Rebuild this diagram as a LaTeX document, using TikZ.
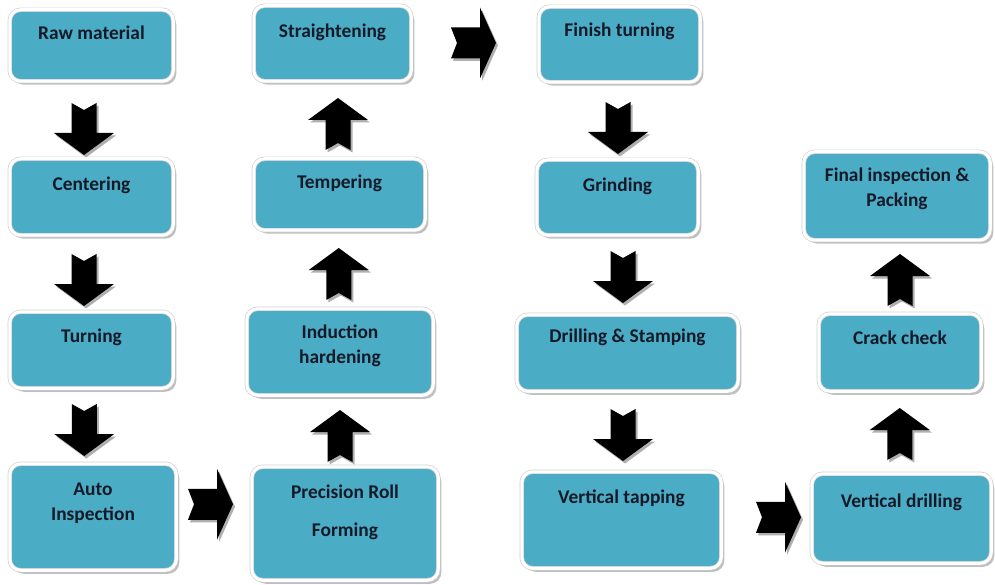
\documentclass[tikz,border=0pt]{standalone}
\usepackage{fontspec}
\setmainfont{Carlito}
\usetikzlibrary{calc,shadows}

\definecolor{boxblue}{RGB}{75,172,198}
\definecolor{inkdark}{RGB}{22,26,40}
\definecolor{arrowshade}{RGB}{175,175,175}
\definecolor{rimgray}{RGB}{205,210,212}

\tikzset{
  stepbox/.style={rounded corners=11pt, fill=boxblue, draw=rimgray, line width=0.7pt,
    double=white, double distance=3pt, inner sep=0pt,
    drop shadow={shadow xshift=3pt, shadow yshift=-3.5pt, fill=black, opacity=0.25}},
  steptext/.style={font=\bfseries\fontsize{19.4}{24.5}\selectfont, text=inkdark,
    align=center, inner sep=0pt},
  % notched block arrow, vertical: #1 = 1 points down, -1 points up
  varrow/.pic={
    \fill[arrowshade, xshift=2pt, yshift=-2.5pt]
      (-12.5,{-26*#1}) -- (0,{-19*#1}) -- (12.5,{-26*#1}) -- (12.5,{4*#1}) --
      (30,{4*#1}) -- (0,{26*#1}) -- (-30,{4*#1}) -- (-12.5,{4*#1}) -- cycle;
    \fill[black]
      (-12.5,{-26*#1}) -- (0,{-19*#1}) -- (12.5,{-26*#1}) -- (12.5,{4*#1}) --
      (30,{4*#1}) -- (0,{26*#1}) -- (-30,{4*#1}) -- (-12.5,{4*#1}) -- cycle;
  },
  % notched block arrow pointing right
  harrow/.pic={
    \fill[arrowshade, xshift=2pt, yshift=-2.5pt]
      (-22.5,-15.5) -- (-16.5,0) -- (-22.5,15.5) -- (6.5,15.5) -- (6.5,35.5) --
      (22.5,0) -- (6.5,-35.5) -- (6.5,-15.5) -- cycle;
    \fill[black]
      (-22.5,-15.5) -- (-16.5,0) -- (-22.5,15.5) -- (6.5,15.5) -- (6.5,35.5) --
      (22.5,0) -- (6.5,-35.5) -- (6.5,-15.5) -- cycle;
  }
}

\begin{document}
\begin{tikzpicture}[x=1pt, y=-1pt]
\useasboundingbox (0,0) rectangle (995,585);

% process boxes
\node[stepbox, minimum width=163.5pt, minimum height=71.5pt]  (raw)    at (91.5,45.5)  {};
\node[stepbox, minimum width=163.5pt, minimum height=76.5pt]  (cent)   at (91.5,197)   {};
\node[stepbox, minimum width=163.5pt, minimum height=76.5pt]  (turn)   at (91.5,350)   {};
\node[stepbox, minimum width=166.5pt, minimum height=106.5pt] (auto)   at (93,517)     {};

\node[stepbox, minimum width=157.5pt, minimum height=75.5pt]  (strt)   at (332.5,43.5) {};
\node[stepbox, minimum width=171.5pt, minimum height=71.5pt]  (temp)   at (339.5,194.5){};
\node[stepbox, minimum width=186.5pt, minimum height=86.5pt]  (induct) at (340,352)    {};
\node[stepbox, minimum width=186.5pt, minimum height=113.5pt] (prec)   at (345,523.5)  {};

\node[stepbox, minimum width=161.5pt, minimum height=75.5pt]  (finish) at (619.5,44.5) {};
\node[stepbox, minimum width=161.5pt, minimum height=75.5pt]  (grind)  at (617.5,197.5){};
\node[stepbox, minimum width=221.5pt, minimum height=76.5pt]  (drill)  at (627.5,353)  {};
\node[stepbox, minimum width=199.5pt, minimum height=96.5pt]  (tap)    at (621.5,520)  {};

\node[stepbox, minimum width=186.5pt, minimum height=88.5pt]  (final)  at (897,196)    {};
\node[stepbox, minimum width=162.5pt, minimum height=77.5pt]  (crack)  at (900,352.5)  {};
\node[stepbox, minimum width=179.5pt, minimum height=89.5pt]  (vdrill) at (901.5,518.5){};

% box captions
\node[steptext] (raw-t)    at (91.5,33)   {Raw material};
\node[steptext] (cent-t)   at (91.5,185)  {Centering};
\node[steptext] (turn-t)   at (91.5,337)  {Turning};
\node[steptext] (auto-t)   at (93,503)    {Auto\\Inspection};
\node[steptext] (strt-t)   at (332.5,32)  {Straightening};
\node[steptext] (temp-t)   at (339.5,183) {Tempering};
\node[steptext] (induct-t) at (340,346)   {Induction\\hardening};
\node[steptext] (prec-t)   at (345,512)   {Precision Roll\\[13.5pt]Forming};
\node[steptext] (finish-t) at (619.5,31)  {Finish turning};
\node[steptext] (grind-t)  at (617.5,186) {Grinding};
\node[steptext] (drill-t)  at (627.5,337) {Drilling \& Stamping};
\node[steptext] (tap-t)    at (621.5,498) {Vertical tapping};
\node[steptext] (final-t)  at (897,189)   {Final inspection \&\\Packing};
\node[steptext] (crack-t)  at (900,338)   {Crack check};
\node[steptext] (vdrill-t) at (901.5,502) {Vertical drilling};

% flow arrows between the steps
\pic at ($(raw.south)!0.5!(cent.north)+(-7.5,9)$)    {varrow=1};
\pic at ($(cent.south)!0.5!(turn.north)+(-7.5,6.5)$) {varrow=1};
\pic at ($(turn.south)!0.5!(auto.north)+(-8,4)$)     {varrow=1};
\pic at ($(auto.east)!0.5!(prec.west)+(-3.5,-16)$)   {harrow};
\pic at ($(prec.north)!0.5!(induct.south)+(-2.5,5)$) {varrow=-1};
\pic at ($(induct.north)!0.5!(temp.south)+(-1,4.5)$) {varrow=-1};
\pic at ($(temp.north)!0.5!(strt.south)+(2,4)$)      {varrow=-1};
\pic at ($(strt.east)!0.5!(finish.west)+(-1.5,-1)$)  {harrow};
\pic at ($(finish.south)!0.5!(grind.north)+(-0.5,7)$){varrow=1};
\pic at ($(grind.south)!0.5!(drill.north)+(0.5,2)$)  {varrow=1};
\pic at ($(drill.south)!0.5!(tap.north)+(-1.5,3.5)$) {varrow=1};
\pic at ($(tap.east)!0.5!(vdrill.west)+(12,-2)$)     {harrow};
\pic at ($(vdrill.north)!0.5!(crack.south)+(-1,1.5)$){varrow=-1};
\pic at ($(crack.north)!0.5!(final.south)+(1.5,3)$)  {varrow=-1};
\end{tikzpicture}
\end{document}
